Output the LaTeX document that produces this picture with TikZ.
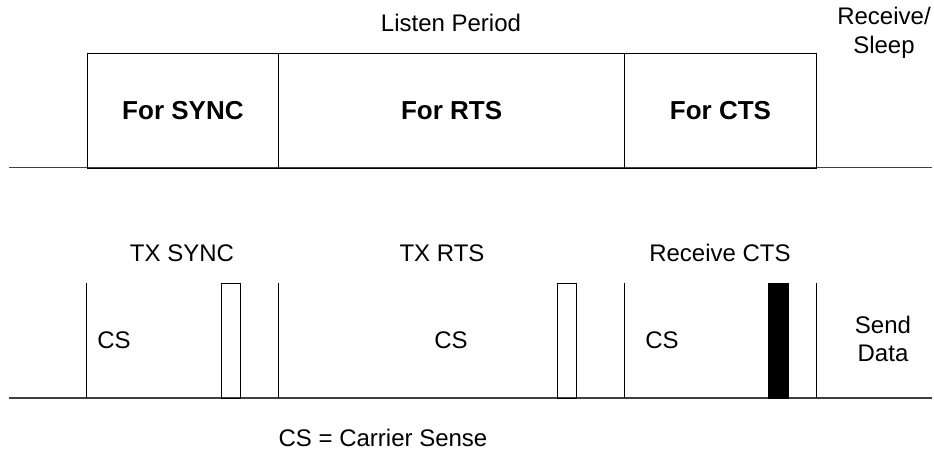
\documentclass[tikz,border=0pt]{standalone}
\usepackage{fontspec}
\setmainfont{Liberation Sans}
\begin{document}
\begin{tikzpicture}[x=1pt,y=-1pt,
  lbl/.style={font=\fontsize{24}{28.5}\selectfont, inner sep=0pt, align=center},
  slot/.style={draw=black, line width=1pt, inner sep=0pt, anchor=north west,
    minimum height=115pt, font=\fontsize{26}{30}\selectfont\bfseries},
  pulse/.style={draw=black, line width=1pt, inner sep=0pt, anchor=north west,
    minimum height=115pt, minimum width=19.5pt},
  axis/.style={draw=black!75, line width=1.6pt},
  tick/.style={draw=black, line width=1pt}]
\useasboundingbox (0,0) rectangle (934,458);

% ---- receiver: listen period slots ----
\node[lbl] (listen) at (451,23) {Listen Period};
\node[lbl] (rsleep) at (884,33) {Receive/\\Sleep};
\coordinate (ta) at (9,167.5);
\coordinate (tb) at (932,167.5);
\draw[axis] (ta) -- (tb);
\node[slot, minimum width=191.8pt] (fsync) at (86.5,52.5) {For SYNC};
\node[slot, minimum width=345.7pt] (frts) at (278.3,52.5) {For RTS};
\node[slot, minimum width=192pt] (fcts) at (624,52.5) {For CTS};

% ---- sender: carrier sense and transmissions ----
\node[lbl] (txsync) at (182,253) {TX SYNC};
\node[lbl] (txrts) at (442,253) {TX RTS};
\node[lbl] (rxcts) at (720,253) {Receive CTS};
\coordinate (ba) at (9,398);
\coordinate (bb) at (932,398);
\draw[axis] (ba) -- (bb);
\foreach \x/\n in {86.5/a,278.3/b,624/c,816/d}{
  \coordinate (v\n t) at (\x,283);
  \coordinate (v\n b) at (\x,398);
  \draw[tick] (v\n t) -- (v\n b);
}
\node[pulse] (psync) at (220.5,283) {};
\node[pulse] (prts) at (556.8,283) {};
\node[pulse, fill=black] (pcts) at (768.2,283) {};

\node[lbl] (cs1) at (114,340) {CS};
\node[lbl] (cs2) at (451,340) {CS};
\node[lbl] (cs3) at (662,340) {CS};
\node[lbl] (send) at (883,339) {Send\\Data};

\node[lbl] (legend) at (383,438) {CS = Carrier Sense};
\end{tikzpicture}
\end{document}
